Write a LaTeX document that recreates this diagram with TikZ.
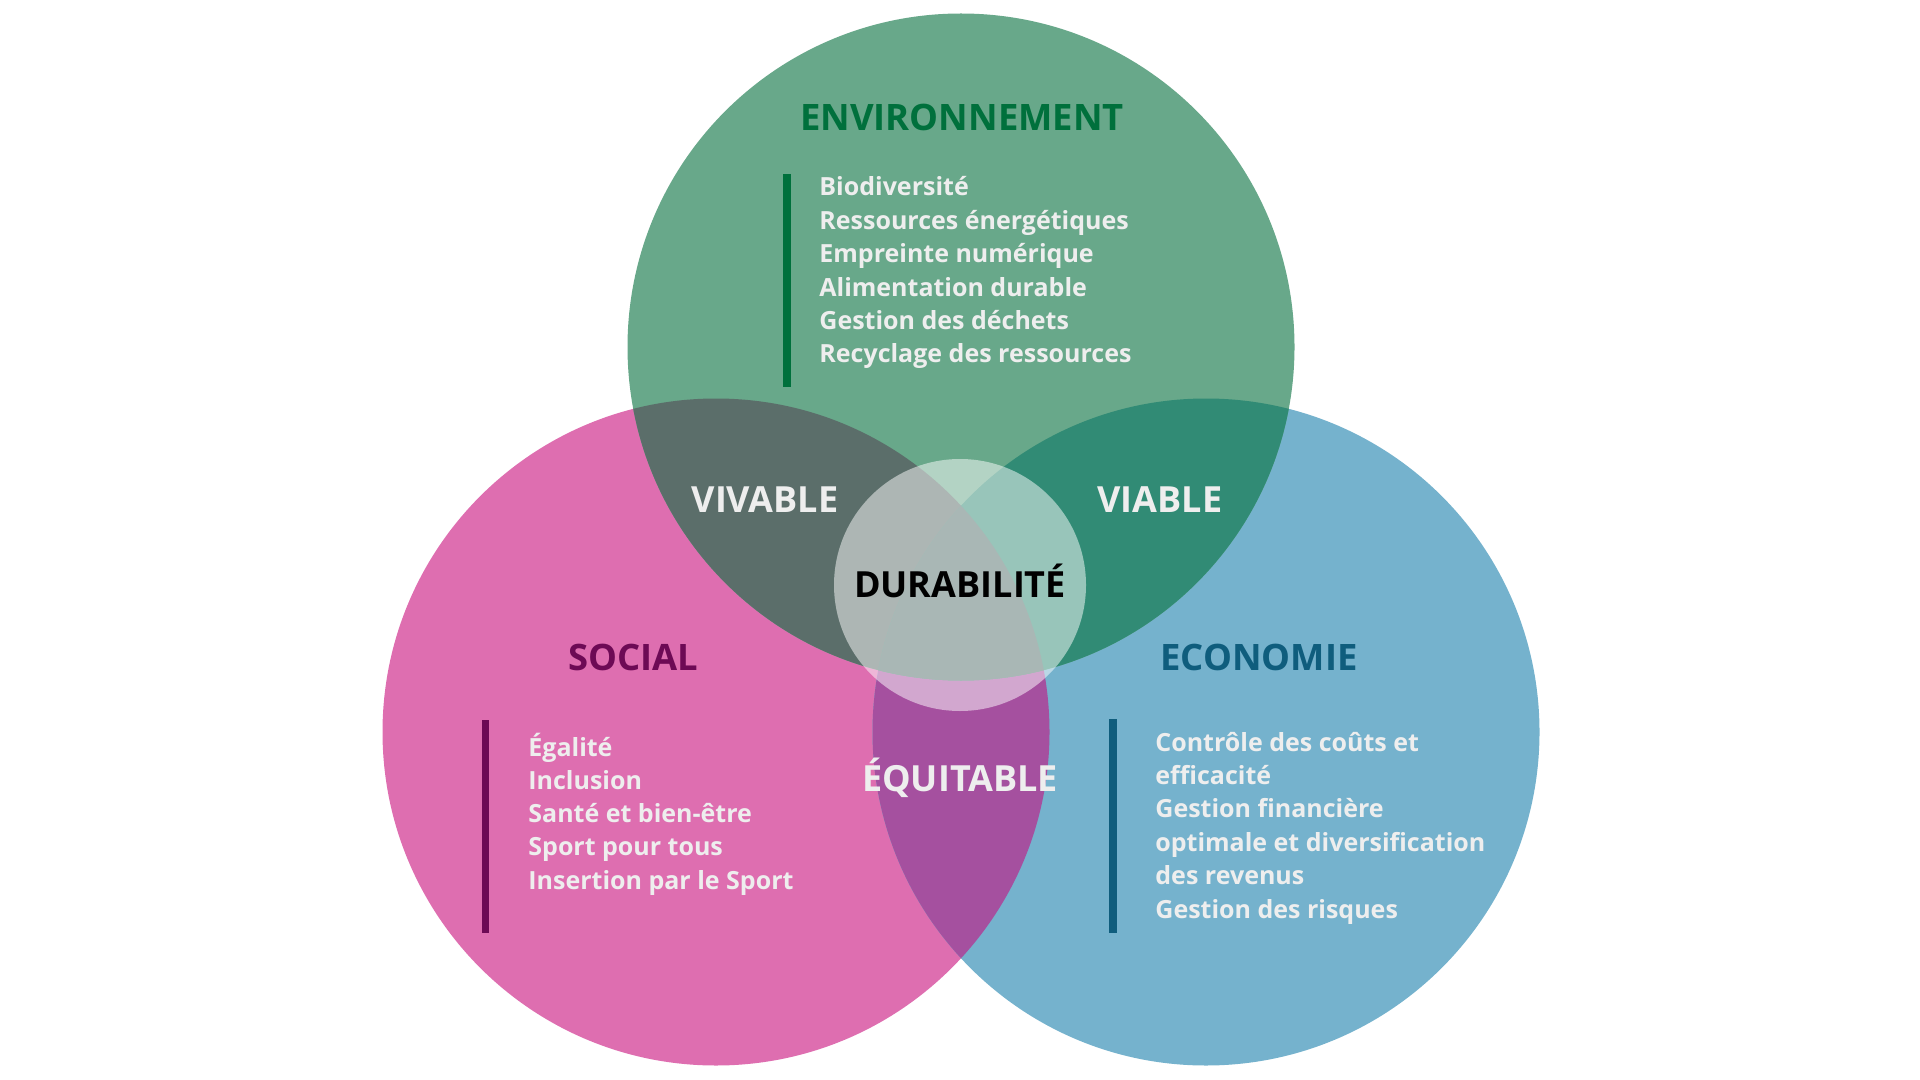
\documentclass[tikz,border=0pt]{standalone}
\usepackage{fontspec}
\setmainfont{Open Sans}
\definecolor{envfill}{HTML}{68A88A}
\definecolor{socfill}{HTML}{DE6EB0}
\definecolor{ecofill}{HTML}{75B2CD}
\definecolor{vivfill}{HTML}{5B6E6A}
\definecolor{viafill}{HTML}{318B75}
\definecolor{equifill}{HTML}{A5509F}
\definecolor{durfill}{HTML}{546F6B}
\definecolor{envdark}{HTML}{00703C}
\definecolor{socdark}{HTML}{6D0A55}
\definecolor{ecodark}{HTML}{0F5D7D}
\definecolor{lighttext}{HTML}{EEEEEE}
\begin{document}
\begin{tikzpicture}[x=0.5pt,y=-0.5pt,
    heading/.style={font=\bfseries\fontsize{18.2}{20}\selectfont, anchor=base, inner sep=0},
    zone/.style={font=\bfseries\fontsize{18}{20}\selectfont, anchor=base, inner sep=0, text=lighttext},
    item/.style={font=\bfseries\fontsize{12.5}{14}\selectfont, anchor=base west, inner sep=0, text=lighttext}]
    \useasboundingbox (0,0) rectangle (1920,1080);
    \coordinate (env) at (961,347);
    \coordinate (soc) at (716,732);
    \coordinate (eco) at (1206,732);
    \fill[socfill] (soc) circle(166.75pt);
    \fill[ecofill] (eco) circle(166.75pt);
    \fill[envfill] (env) circle(166.75pt);
    % overlaps
    \begin{scope}
        \clip (soc) circle(166.75pt);
        \fill[equifill] (eco) circle(166.75pt);
    \end{scope}
    \begin{scope}
        \clip (env) circle(166.75pt);
        \fill[vivfill] (soc) circle(166.75pt);
        \fill[viafill] (eco) circle(166.75pt);
        \clip (soc) circle(166.75pt);
        \fill[durfill] (eco) circle(166.75pt);
    \end{scope}
    \fill[white, fill opacity=0.5] (960,585) circle(63pt);

    % bars
    \draw[envdark, line width=4pt] (787,174) -- (787,387);
    \draw[socdark, line width=3.5pt] (485.5,720) -- (485.5,933);
    \draw[ecodark, line width=4pt] (1113,719) -- (1113,933);

    % titles
    \node[heading, text=envdark] (envtitle) at (962,131) {ENVIRONNEMENT};
    \node[heading, text=socdark] (soctitle) at (633,670) {SOCIAL};
    \node[heading, text=ecodark] (ecotitle) at (1259,670) {ECONOMIE};
    \node[zone] (vivable) at (765,512) {VIVABLE};
    \node[zone] (viable) at (1160,512) {VIABLE};
    \node[zone] (equitable) at (960,791) {ÉQUITABLE};
    \node[zone, text=black] (durable) at (960,597) {DURABILITÉ};

    % lists
    \foreach \txt [count=\i] in {Biodiversité, Ressources énergétiques, Empreinte numérique,
        Alimentation durable, Gestion des déchets, Recyclage des ressources}
        \node[item] (envitem\i) at (819,{162.6+33.4*\i}) {\txt};
    \foreach \txt [count=\i] in {Égalité, Inclusion, Santé et bien-être, Sport pour tous,
        Insertion par le Sport}
        \node[item] (socitem\i) at (528,{722.7+33.3*\i}) {\txt};
    \foreach \txt [count=\i] in {Contrôle des coûts et, efficacité, Gestion financière,
        optimale et diversification, des revenus, Gestion des risques}
        \node[item] (ecoitem\i) at (1155,{717.6+33.4*\i}) {\txt};
\end{tikzpicture}
\end{document}
